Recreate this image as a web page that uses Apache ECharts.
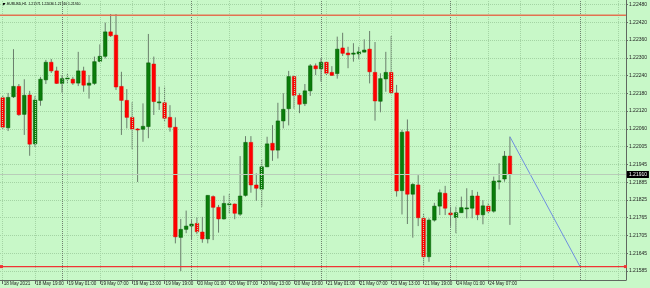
<!DOCTYPE html>
<html><head><meta charset="utf-8">
<script src="https://cdn.jsdelivr.net/npm/echarts@6/dist/echarts.min.js"></script>
<style>html,body{margin:0;padding:0;background:#c8f8c8}#c{width:650px;height:288px}</style>
</head><body><div id="c"></div>
<script>
const symbolName = 'EURUSD,H1';
const openP  = [1.22167,1.22066,1.22170,1.22205,1.22111,1.22176,1.22012,1.22158,1.22227,1.22286,1.22257,1.22215,1.22231,1.22229,1.22216,1.22257,1.22209,1.22215,1.22289,1.22306,1.22388,1.22377,1.22205,1.22158,1.22101,1.22062,1.22061,1.22070,1.22280,1.22152,1.22150,1.22101,1.22068,1.21698,1.21725,1.21736,1.21745,1.21716,1.21693,1.21835,1.21799,1.21760,1.21810,1.21810,1.21776,1.21839,1.22017,1.21874,1.21860,1.21935,1.22014,1.21991,1.22089,1.22130,1.22238,1.22175,1.22147,1.22190,1.22274,1.22264,1.22286,1.22252,1.22248,1.22334,1.22317,1.22313,1.22314,1.22320,1.22330,1.22252,1.22155,1.22230,1.22252,1.22183,1.21855,1.22053,1.21843,1.21874,1.21762,1.21633,1.21756,1.21803,1.21846,1.21780,1.21765,1.21781,1.21796,1.21796,1.21837,1.21774,1.21803,1.21786,1.21887,1.21894,1.21971];
const highP  = [1.22176,1.22183,1.22330,1.22213,1.22229,1.22190,1.22173,1.22237,1.22294,1.22297,1.22271,1.22243,1.22247,1.22237,1.22321,1.22271,1.22243,1.22305,1.22346,1.22419,1.22448,1.22448,1.22254,1.22196,1.22152,1.22065,1.22148,1.22381,1.22305,1.22204,1.22204,1.22142,1.22101,1.21760,1.21788,1.21756,1.21765,1.21767,1.21840,1.21839,1.21807,1.21838,1.21844,1.21812,1.21971,1.22038,1.22038,1.21913,1.21961,1.22036,1.22075,1.22150,1.22182,1.22257,1.22243,1.22182,1.22213,1.22280,1.22282,1.22300,1.22288,1.22273,1.22372,1.22385,1.22338,1.22350,1.22338,1.22363,1.22391,1.22354,1.22249,1.22321,1.22374,1.22210,1.22059,1.22094,1.21880,1.21907,1.21779,1.21762,1.21814,1.21859,1.21871,1.21801,1.21801,1.21835,1.21863,1.21857,1.21851,1.21823,1.21814,1.21902,1.21947,1.21988,1.22036];
const lowP   = [1.22059,1.22055,1.22166,1.22106,1.22042,1.21972,1.22002,1.22140,1.22213,1.22250,1.22213,1.22184,1.22213,1.22210,1.22206,1.22187,1.22164,1.22210,1.22286,1.22299,1.22371,1.22193,1.22042,1.22064,1.21994,1.21884,1.22019,1.22031,1.22109,1.22126,1.22086,1.22053,1.21678,1.21585,1.21712,1.21689,1.21709,1.21680,1.21678,1.21689,1.21714,1.21758,1.21779,1.21759,1.21770,1.21835,1.21848,1.21821,1.21801,1.21934,1.21955,1.21963,1.22064,1.22074,1.22130,1.22115,1.22139,1.22173,1.22243,1.22221,1.22243,1.22240,1.22231,1.22307,1.22266,1.22288,1.22296,1.22319,1.22215,1.22090,1.22118,1.22187,1.22179,1.21835,1.21775,1.21743,1.21697,1.21736,1.21599,1.21616,1.21751,1.21773,1.21773,1.21734,1.21712,1.21780,1.21762,1.21762,1.21756,1.21742,1.21779,1.21781,1.21859,1.21885,1.21740];
const closeP = [1.22068,1.22168,1.22205,1.22110,1.22175,1.22011,1.22159,1.22229,1.22286,1.22257,1.22215,1.22231,1.22233,1.22216,1.22257,1.22209,1.22216,1.22288,1.22306,1.22388,1.22375,1.22203,1.22158,1.22101,1.22062,1.22060,1.22071,1.22284,1.22154,1.22153,1.22098,1.22068,1.21700,1.21725,1.21736,1.21743,1.21717,1.21693,1.21839,1.21799,1.21760,1.21812,1.21811,1.21779,1.21837,1.22017,1.21874,1.21863,1.21935,1.22012,1.21991,1.22089,1.22128,1.22238,1.22175,1.22145,1.22190,1.22274,1.22264,1.22286,1.22249,1.22242,1.22330,1.22316,1.22311,1.22317,1.22321,1.22327,1.22254,1.22156,1.22231,1.22252,1.22184,1.21854,1.22051,1.21843,1.21876,1.21764,1.21633,1.21756,1.21803,1.21848,1.21796,1.21774,1.21781,1.21798,1.21797,1.21837,1.21774,1.21804,1.21786,1.21887,1.21888,1.21971,1.21910];
const timeLabels = ['18 May 2021','18 May 19:00','19 May 01:00','19 May 07:00','19 May 13:00','19 May 19:00','20 May 01:00','20 May 07:00','20 May 13:00','20 May 19:00','21 May 01:00','21 May 07:00','21 May 13:00','21 May 19:00','24 May 01:00','24 May 07:00'];
const labelStep = 6;
const totalSlots = 116;
const daySeparators = [11, 35, 59, 83, 107];
const priceTicks = [1.22480,1.22420,1.22361,1.22301,1.22241,1.22182,1.22122,1.22062,1.22003,1.21943,1.21883,1.21824,1.21764,1.21704,1.21645,1.21585];
const priceTickLabels = ['1.22480','1.22420','1.22360','1.22300','1.22240','1.22180','1.22120','1.22060','1.22005','1.21945','1.21885','1.21825','1.21765','1.21705','1.21645','1.21585'];
const bidPrice = 1.21910;
const levelTop = 1.22444;
const levelBottom = 1.21600;
const trendStart = [94, 1.22036];
const trendEnd = [107, 1.21600];

const N = openP.length;
const categories = Array.from({length: totalSlots}, (_, i) => String(i));
const candles = openP.map((o, i) => [i, o, closeP[i], lowP[i], highP[i]]);
const gridIdx = categories.map((_, i) => i).filter(i => i % labelStep === 0);
const showLabel = i => i % labelStep === 0 && i < N;

const chart = echarts.init(document.getElementById('c'), null, {renderer: 'canvas'});
const font = 'Liberation Sans, Arial, sans-serif';
const last = N - 1;
const headerText = symbolName + '  ' + openP[last].toFixed(5) + ' ' + highP[last].toFixed(5) + ' ' + lowP[last].toFixed(5) + ' ' + closeP[last].toFixed(5);
chart.setOption({
  backgroundColor: '#c8f8c8',
  animation: false,
  textStyle: {fontFamily: font},
  grid: {left: -2.3, right: 22.5, top: 0, bottom: 8},
  xAxis: {
    type: 'category', data: categories, boundaryGap: true,
    axisLine: {lineStyle: {color: '#606860'}},
    axisTick: {show: true, alignWithLabel: true, interval: (i) => showLabel(i), length: 4, lineStyle: {color: '#606860'}},
    axisLabel: {interval: (i) => showLabel(i), formatter: (v) => { const i = +v; return showLabel(i) ? timeLabels[i / labelStep] : ''; }, fontSize: 4.6, color: '#222', align: 'left', margin: 1.5, padding: [0, 0, 0, 1]},
    splitLine: {show: false}
  },
  yAxis: {
    type: 'value', position: 'right', min: 1.21555, max: 1.22495,
    axisLine: {show: true, lineStyle: {color: '#606860'}},
    axisTick: {show: true, length: 2, customValues: priceTicks, lineStyle: {color: '#606860'}},
    axisLabel: {customValues: priceTicks, fontSize: 5, color: '#222', margin: 3,
      formatter: (v) => { let b = 0; priceTicks.forEach((t, k) => { if (Math.abs(t - v) < Math.abs(priceTicks[b] - v)) b = k; }); return priceTickLabels[b]; }},
    splitLine: {show: true, lineStyle: {color: '#a4d4a4', type: 'dotted', width: 1}}
  },
  series: [
    {
      type: 'line', data: [], silent: true, symbol: 'none',
      markLine: {
        silent: true, symbol: ['none', 'none'], animation: false, label: {show: false}, precision: 6,
        data: [
          ...gridIdx.map(i => ({xAxis: i, lineStyle: {color: '#a4d4a4', type: 'dotted', width: 1}})),
          ...daySeparators.map(i => ({xAxis: i, lineStyle: {color: '#6f806f', type: 'dotted', width: 1}}))
        ]
      }
    },
    {
      type: 'custom', data: candles, clip: true,
      encode: {x: 0, y: [1, 2, 3, 4]},
      renderItem: (params, api) => {
        const i = api.value(0), o = api.value(1), c = api.value(2), l = api.value(3), h = api.value(4);
        const pO = api.coord([i, o]), pC = api.coord([i, c]), pL = api.coord([i, l]), pH = api.coord([i, h]);
        const w = api.size([1, 0])[0] * 0.66;
        const top = Math.min(pO[1], pC[1]);
        const hgt = Math.max(1, Math.abs(pO[1] - pC[1]));
        const up = c >= o;
        return {type: 'group', children: [
          {type: 'line', shape: {x1: pH[0], y1: pH[1], x2: pL[0], y2: pL[1]}, style: {stroke: '#6a7e6c', lineWidth: 1}},
          {type: 'rect', shape: {x: pO[0] - w / 2, y: top, width: w, height: hgt}, style: {fill: up ? '#0a7d0a' : '#ff0000', stroke: up ? '#045a04' : '#e00000', lineWidth: 0.5}}
        ]};
      }
    },
    {
      type: 'line', data: [], silent: true, symbol: 'none',
      markLine: {
        silent: true, symbol: ['none', 'none'], animation: false, label: {show: false}, precision: 6,
        data: [
          [{coord: trendStart}, {coord: trendEnd, lineStyle: {color: '#6f8fe0', type: 'solid', width: 1}}]
        ]
      }
    }
  ]
});

// Horizontal price levels, positioned through the chart's own axis scale
const yOf = (p) => chart.convertToPixel({yAxisIndex: 0}, p);
const plotRight = chart.convertToPixel({xAxisIndex: 0}, totalSlots - 1) + chart.getModel().getComponent('xAxis', 0).axis.getBandWidth() / 2;
const yTop = yOf(levelTop), yBot = yOf(levelBottom), yBid = Math.round(yOf(bidPrice));
chart.setOption({
  graphic: [
    {type: 'polygon', shape: {points: [[2, 3], [5.5, 3], [3.75, 5.5]]}, style: {fill: '#000'}},
    {type: 'text', left: 7, top: 2.3, style: {text: headerText, fontSize: 3.4, fill: '#000', fontFamily: font}},
    {type: 'rect', z: 100, shape: {x: 0, y: yBid, width: plotRight, height: 1}, style: {fill: '#b9cdb9'}},
    {type: 'rect', z: 100, shape: {x: 0, y: yTop - 0.7, width: plotRight, height: 1.4}, style: {fill: '#e27250'}},
    {type: 'rect', z: 100, shape: {x: 0, y: yBot - 0.7, width: plotRight, height: 1.4}, style: {fill: '#f03434'}},
    {type: 'rect', z: 100, shape: {x: 0, y: yBot - 1.5, width: 3, height: 3}, style: {fill: '#f03434'}},
    {type: 'rect', z: 100, shape: {x: plotRight - 2, y: yBot - 1.5, width: 3, height: 3}, style: {fill: '#f03434'}},
    {type: 'rect', z: 100, shape: {x: plotRight + 1, y: yBid - 3, width: 22, height: 7}, style: {fill: '#000'}},
    {type: 'text', z: 101, style: {x: plotRight + 3, y: yBid + 0.5, text: bidPrice.toFixed(5), fill: '#fff', fontSize: 5, fontFamily: font, verticalAlign: 'middle', align: 'left'}}
  ]
});
</script></body></html>
